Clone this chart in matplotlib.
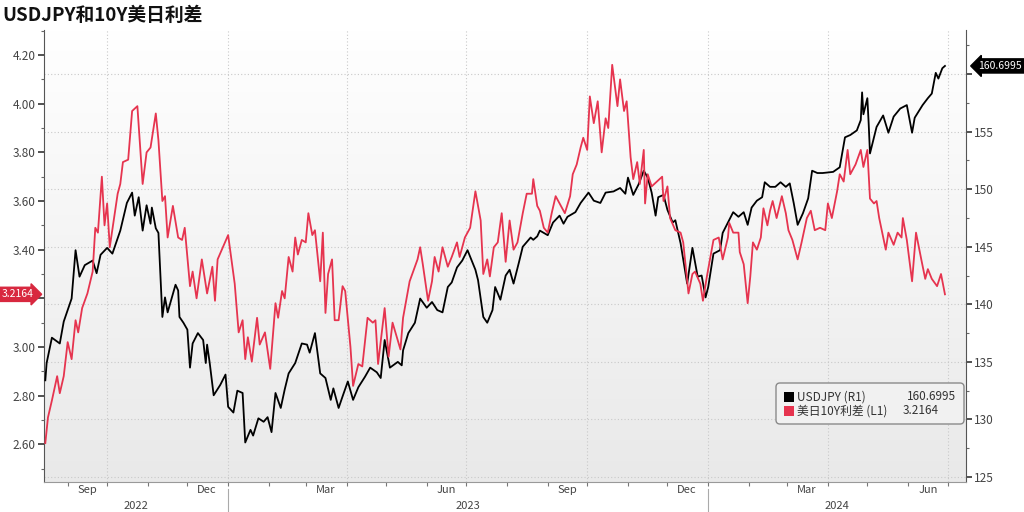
import matplotlib
matplotlib.use("Agg")
import matplotlib.pyplot as plt
import matplotlib.dates as mdates
import matplotlib.transforms as mtrans
from matplotlib.patches import FancyBboxPatch, Rectangle
from matplotlib.colors import LinearSegmentedColormap
from matplotlib.ticker import FixedLocator, MultipleLocator
import numpy as np
import pandas as pd

plt.rcParams['font.family'] = ['Noto Sans CJK SC', 'DejaVu Sans']

title = "USDJPY和10Y美日利差"
jpy_name = "USDJPY (R1)"
spread_name = "美日10Y利差 (L1)"
jpy_last = 160.6995
spread_last = 3.2164

# USDJPY (right axis)
jpy_dates = [
    "2022-08-15", "2022-08-16", "2022-08-20", "2022-08-26", "2022-08-29", "2022-09-04", "2022-09-07",
    "2022-09-10", "2022-09-14", "2022-09-20", "2022-09-23", "2022-09-26", "2022-10-01", "2022-10-05",
    "2022-10-11", "2022-10-16", "2022-10-20", "2022-10-22", "2022-10-25", "2022-10-28", "2022-10-31",
    "2022-11-03", "2022-11-04", "2022-11-07", "2022-11-09", "2022-11-12", "2022-11-14", "2022-11-16",
    "2022-11-22", "2022-11-24", "2022-11-25", "2022-11-28", "2022-12-01", "2022-12-03", "2022-12-05",
    "2022-12-09", "2022-12-13", "2022-12-15", "2022-12-16", "2022-12-18", "2022-12-21", "2022-12-26",
    "2022-12-30", "2023-01-01", "2023-01-05", "2023-01-08", "2023-01-12", "2023-01-14", "2023-01-18",
    "2023-01-20", "2023-01-24", "2023-01-28", "2023-01-31", "2023-02-03", "2023-02-06", "2023-02-10",
    "2023-02-13", "2023-02-16", "2023-02-21", "2023-02-26", "2023-03-02", "2023-03-04", "2023-03-08",
    "2023-03-12", "2023-03-16", "2023-03-20", "2023-03-22", "2023-03-26", "2023-03-29", "2023-04-02",
    "2023-04-06", "2023-04-10", "2023-04-15", "2023-04-19", "2023-04-24", "2023-04-27", "2023-04-30",
    "2023-05-04", "2023-05-10", "2023-05-13", "2023-05-14", "2023-05-18", "2023-05-23", "2023-05-27",
    "2023-06-01", "2023-06-05", "2023-06-09", "2023-06-13", "2023-06-17", "2023-06-20", "2023-06-24",
    "2023-06-28", "2023-07-02", "2023-07-08", "2023-07-10", "2023-07-14", "2023-07-17", "2023-07-21",
    "2023-07-23", "2023-07-27", "2023-07-31", "2023-08-03", "2023-08-06", "2023-08-10", "2023-08-13",
    "2023-08-19", "2023-08-21", "2023-08-24", "2023-08-26", "2023-09-01", "2023-09-05", "2023-09-10",
    "2023-09-13", "2023-09-16", "2023-09-22", "2023-09-26", "2023-10-02", "2023-10-06", "2023-10-11",
    "2023-10-15", "2023-10-21", "2023-10-26", "2023-10-30", "2023-11-01", "2023-11-05", "2023-11-09",
    "2023-11-13", "2023-11-16", "2023-11-19", "2023-11-22", "2023-11-24", "2023-11-28", "2023-12-01",
    "2023-12-05", "2023-12-07", "2023-12-11", "2023-12-16", "2023-12-20", "2023-12-24", "2023-12-27",
    "2023-12-30", "2024-01-01", "2024-01-05", "2024-01-10", "2024-01-12", "2024-01-16", "2024-01-20",
    "2024-01-24", "2024-01-28", "2024-01-31", "2024-02-03", "2024-02-07", "2024-02-11", "2024-02-13",
    "2024-02-17", "2024-02-21", "2024-02-25", "2024-02-29", "2024-03-03", "2024-03-06", "2024-03-09",
    "2024-03-13", "2024-03-17", "2024-03-20", "2024-03-24", "2024-03-28", "2024-04-05", "2024-04-10",
    "2024-04-14", "2024-04-18", "2024-04-23", "2024-04-26", "2024-04-27", "2024-04-28", "2024-05-01",
    "2024-05-02", "2024-05-03", "2024-05-08", "2024-05-13", "2024-05-17", "2024-05-21", "2024-05-26",
    "2024-05-31", "2024-06-04", "2024-06-06", "2024-06-12", "2024-06-16", "2024-06-19", "2024-06-22",
    "2024-06-24", "2024-06-27", "2024-06-29",
]
jpy_values = [
    133.4, 134.9, 137.1, 136.6, 138.5, 140.5, 144.7,
    142.4, 143.4, 143.8, 142.7, 144.3, 144.9, 144.4,
    146.4, 148.8, 149.7, 147.7, 149.3, 146.4, 148.6,
    147.0, 148.4, 146.6, 146.2, 138.9, 140.6, 139.3,
    141.7, 141.2, 138.9, 138.4, 137.8, 134.5, 136.6,
    137.5, 136.9, 134.9, 136.5, 134.9, 132.1, 133.0,
    133.9, 131.1, 130.6, 132.5, 132.3, 128.0, 129.1,
    128.6, 130.1, 129.8, 130.2, 128.9, 132.3, 131.0,
    132.6, 134.0, 134.9, 136.6, 136.5, 135.8, 137.5,
    134.0, 133.6, 131.7, 132.7, 131.0, 132.0, 133.3,
    131.7, 132.8, 133.7, 134.5, 134.1, 133.6, 136.9,
    134.5, 135.0, 134.7, 136.0, 137.5, 138.4, 140.5,
    139.7, 140.2, 139.5, 139.3, 141.5, 141.9, 143.2,
    143.8, 144.7, 143.0, 142.1, 138.9, 138.4, 139.5,
    141.5, 140.4, 142.5, 143.0, 141.8, 143.6, 145.0,
    145.8, 145.6, 145.9, 146.4, 146.0, 147.1, 147.7,
    147.0, 147.6, 148.0, 148.8, 149.7, 149.0, 148.8,
    149.7, 149.8, 150.1, 149.6, 151.0, 149.5, 150.4,
    151.6, 151.0, 149.7, 147.7, 149.3, 149.5, 148.2,
    147.1, 147.3, 145.3, 141.8, 144.9, 142.4, 142.5,
    140.6, 141.5, 144.4, 144.7, 146.2, 147.1, 148.0,
    147.6, 148.0, 146.9, 148.4, 149.0, 149.3, 150.6,
    150.2, 150.2, 150.6, 150.2, 150.5, 148.8, 146.9,
    147.9, 149.2, 151.6, 151.4, 151.4, 151.5, 151.9,
    154.5, 154.7, 155.1, 156.0, 158.4, 156.5, 157.9,
    155.7, 153.1, 155.4, 156.4, 154.9, 156.3, 157.0,
    157.3, 154.9, 156.2, 157.3, 157.9, 158.3, 160.1,
    159.6, 160.5, 160.6995,
]

# US-Japan 10Y yield spread (left axis)
spread_dates = [
    "2022-08-15", "2022-08-17", "2022-08-20", "2022-08-24", "2022-08-26", "2022-08-29", "2022-09-01",
    "2022-09-04", "2022-09-07", "2022-09-09", "2022-09-12", "2022-09-16", "2022-09-20", "2022-09-22",
    "2022-09-24", "2022-09-27", "2022-09-29", "2022-10-01", "2022-10-03", "2022-10-09", "2022-10-11",
    "2022-10-13", "2022-10-17", "2022-10-20", "2022-10-24", "2022-10-28", "2022-10-31", "2022-11-03",
    "2022-11-07", "2022-11-09", "2022-11-12", "2022-11-14", "2022-11-16", "2022-11-20", "2022-11-24",
    "2022-11-27", "2022-11-29", "2022-12-03", "2022-12-05", "2022-12-08", "2022-12-12", "2022-12-16",
    "2022-12-20", "2022-12-22", "2022-12-24", "2022-12-28", "2023-01-01", "2023-01-04", "2023-01-06",
    "2023-01-09", "2023-01-12", "2023-01-14", "2023-01-16", "2023-01-19", "2023-01-23", "2023-01-25",
    "2023-01-29", "2023-02-02", "2023-02-06", "2023-02-08", "2023-02-11", "2023-02-13", "2023-02-16",
    "2023-02-19", "2023-02-21", "2023-02-23", "2023-02-26", "2023-03-01", "2023-03-03", "2023-03-06",
    "2023-03-08", "2023-03-12", "2023-03-14", "2023-03-16", "2023-03-18", "2023-03-21", "2023-03-23",
    "2023-03-26", "2023-03-29", "2023-03-31", "2023-04-04", "2023-04-06", "2023-04-10", "2023-04-13",
    "2023-04-17", "2023-04-21", "2023-04-23", "2023-04-25", "2023-04-28", "2023-04-30", "2023-05-03",
    "2023-05-06", "2023-05-12", "2023-05-14", "2023-05-19", "2023-05-25", "2023-05-27", "2023-05-29",
    "2023-06-02", "2023-06-05", "2023-06-07", "2023-06-10", "2023-06-13", "2023-06-17", "2023-06-20",
    "2023-06-24", "2023-06-26", "2023-06-30", "2023-07-04", "2023-07-08", "2023-07-12", "2023-07-14",
    "2023-07-17", "2023-07-19", "2023-07-22", "2023-07-25", "2023-07-28", "2023-07-31", "2023-08-03",
    "2023-08-06", "2023-08-09", "2023-08-13", "2023-08-16", "2023-08-20", "2023-08-21", "2023-08-24",
    "2023-08-26", "2023-08-29", "2023-09-01", "2023-09-04", "2023-09-07", "2023-09-10", "2023-09-14",
    "2023-09-18", "2023-09-20", "2023-09-23", "2023-09-26", "2023-09-28", "2023-10-01", "2023-10-03",
    "2023-10-06", "2023-10-09", "2023-10-12", "2023-10-15", "2023-10-17", "2023-10-20", "2023-10-24",
    "2023-10-26", "2023-10-29", "2023-10-31", "2023-11-03", "2023-11-05", "2023-11-08", "2023-11-10",
    "2023-11-13", "2023-11-14", "2023-11-16", "2023-11-19", "2023-11-23", "2023-11-27", "2023-11-28",
    "2023-12-01", "2023-12-03", "2023-12-07", "2023-12-11", "2023-12-13", "2023-12-17", "2023-12-20",
    "2023-12-22", "2023-12-26", "2023-12-28", "2023-12-31", "2024-01-05", "2024-01-09", "2024-01-12",
    "2024-01-16", "2024-01-17", "2024-01-20", "2024-01-24", "2024-01-25", "2024-01-28", "2024-01-31",
    "2024-02-02", "2024-02-04", "2024-02-07", "2024-02-10", "2024-02-12", "2024-02-15", "2024-02-17",
    "2024-02-19", "2024-02-22", "2024-02-26", "2024-02-29", "2024-03-02", "2024-03-05", "2024-03-09",
    "2024-03-12", "2024-03-16", "2024-03-19", "2024-03-22", "2024-03-26", "2024-03-30", "2024-04-01",
    "2024-04-04", "2024-04-08", "2024-04-10", "2024-04-13", "2024-04-16", "2024-04-18", "2024-04-22",
    "2024-04-26", "2024-04-28", "2024-05-01", "2024-05-03", "2024-05-06", "2024-05-08", "2024-05-10",
    "2024-05-15", "2024-05-17", "2024-05-21", "2024-05-24", "2024-05-27", "2024-05-28", "2024-05-31",
    "2024-06-04", "2024-06-07", "2024-06-11", "2024-06-14", "2024-06-16", "2024-06-19", "2024-06-23",
    "2024-06-26", "2024-06-29",
]
spread_values = [
    2.605, 2.71, 2.78, 2.88, 2.81, 2.88, 3.02,
    2.95, 3.11, 3.06, 3.16, 3.22, 3.31, 3.49,
    3.47, 3.70, 3.50, 3.59, 3.41, 3.63, 3.67,
    3.76, 3.77, 3.97, 3.99, 3.67, 3.80, 3.82,
    3.96, 3.85, 3.60, 3.62, 3.45, 3.58, 3.45,
    3.44, 3.49, 3.25, 3.31, 3.20, 3.36, 3.22,
    3.33, 3.19, 3.36, 3.41, 3.46, 3.34, 3.26,
    3.06, 3.11, 2.95, 3.04, 2.94, 3.12, 3.01,
    3.06, 2.91, 3.18, 3.12, 3.23, 3.20, 3.37,
    3.31, 3.45, 3.38, 3.44, 3.43, 3.55, 3.46,
    3.48, 3.27, 3.47, 3.14, 3.30, 3.36, 3.11,
    3.11, 3.25, 3.23, 3.00, 2.84, 2.93, 2.92,
    3.12, 3.10, 3.11, 2.93, 3.07, 3.16, 2.96,
    3.10, 2.99, 3.12, 3.27, 3.36, 3.41, 3.34,
    3.19, 3.27, 3.37, 3.31, 3.41, 3.33, 3.37,
    3.43, 3.37, 3.45, 3.49, 3.64, 3.52, 3.30,
    3.36, 3.29, 3.41, 3.43, 3.55, 3.35, 3.52,
    3.40, 3.43, 3.55, 3.63, 3.63, 3.69, 3.58,
    3.56, 3.49, 3.47, 3.55, 3.62, 3.59, 3.55,
    3.62, 3.71, 3.75, 3.82, 3.86, 3.81, 4.03,
    3.92, 4.01, 3.80, 3.94, 3.90, 4.16, 3.99,
    4.10, 3.97, 4.01, 3.78, 3.69, 3.76, 3.67,
    3.81, 3.59, 3.71, 3.66, 3.68, 3.70, 3.60,
    3.66, 3.53, 3.48, 3.47, 3.43, 3.22, 3.30,
    3.31, 3.26, 3.19, 3.29, 3.44, 3.45, 3.36,
    3.45, 3.51, 3.47, 3.47, 3.39, 3.34, 3.18,
    3.29, 3.43, 3.40, 3.45, 3.57, 3.50, 3.56,
    3.60, 3.53, 3.62, 3.55, 3.48, 3.44, 3.36,
    3.43, 3.53, 3.56, 3.48, 3.49, 3.48, 3.59,
    3.53, 3.64, 3.71, 3.68, 3.81, 3.71, 3.75,
    3.81, 3.74, 3.81, 3.61, 3.59, 3.60, 3.53,
    3.40, 3.47, 3.42, 3.47, 3.45, 3.53, 3.44,
    3.27, 3.47, 3.36, 3.28, 3.32, 3.28, 3.25,
    3.30, 3.2164,
]

left_ticks = [2.60, 2.80, 3.00, 3.20, 3.40, 3.60, 3.80, 4.00, 4.20]
right_ticks = [125, 130, 135, 140, 145, 150, 155, 160]
years = [2022, 2023, 2024]

red = "#e6344f"
W, H = 1024, 512

jd = pd.to_datetime(jpy_dates)
sd = pd.to_datetime(spread_dates)
x0, x1 = pd.Timestamp("2022-08-14"), pd.Timestamp("2024-07-15")

fig = plt.figure(figsize=(W / 100, H / 100), dpi=100)
rect = [44 / W, 30 / H, 922 / W, 452 / H]

# gradient background of plot area
bg = fig.add_axes(rect, zorder=-1)
grad = np.linspace(0, 1, 256).reshape(-1, 1)
cmap = LinearSegmentedColormap.from_list("bg", ["#ffffff", "#e9e9e9"])
bg.imshow(grad, cmap=cmap, aspect="auto", extent=[0, 1, 0, 1])
bg.axis("off")

ax = fig.add_axes(rect)  # USDJPY, right scale
ax.set_facecolor("none")
ax2 = ax.twinx()         # spread, left scale

ax.plot(jd, jpy_values, color="black", lw=1.3, zorder=3)
ax2.plot(sd, spread_values, color=red, lw=1.3, zorder=3)

ax.set_xlim(x0, x1)
ax.set_ylim(124.57, 163.82)
ax2.set_ylim(2.445, 4.303)

# right axis (USDJPY); the tick under the last-value tag gets no label
ax.yaxis.tick_right()
ax.yaxis.set_major_locator(FixedLocator(right_ticks))
ax.yaxis.set_minor_locator(MultipleLocator(2.5))
ax.yaxis.set_major_formatter(plt.FuncFormatter(
    lambda v, p: "" if abs(v - jpy_last) < 2 else f"{v:.0f}"))
ax.tick_params(axis="y", which="major", length=4, width=1.2, color="#333333",
               labelsize=8.5, labelcolor="#444444", pad=2)
ax.tick_params(axis="y", which="minor", length=2, width=0.8, color="#666666")
ax.grid(axis="y", which="major", color="#c9c9c9", lw=0.8, ls=(0, (1, 2)))

# left axis (spread)
ax2.yaxis.tick_left()
ax2.yaxis.set_major_locator(FixedLocator(left_ticks))
ax2.yaxis.set_minor_locator(MultipleLocator(0.1))
ax2.yaxis.set_major_formatter(plt.FuncFormatter(
    lambda v, p: "" if abs(v - spread_last) < 0.05 else f"{v:.2f}"))
ax2.tick_params(axis="y", which="major", length=4, width=1.2, color="#333333",
                labelsize=8.5, labelcolor="#444444", pad=2)
ax2.tick_params(axis="y", which="minor", length=2, width=0.8, color="#666666")
for s in ax2.spines.values():
    s.set_visible(False)

# x axis: month ticks, quarter-month labels in the middle of the month
ax.xaxis.set_major_locator(mdates.MonthLocator())
ax.xaxis.set_major_formatter(plt.NullFormatter())
ax.xaxis.set_minor_locator(mdates.MonthLocator(bymonth=[3, 6, 9, 12], bymonthday=16))
ax.xaxis.set_minor_formatter(mdates.DateFormatter("%b"))
ax.tick_params(axis="x", which="major", length=3, width=0.8, color="#777777")
ax.tick_params(axis="x", which="minor", length=0, labelsize=8, labelcolor="#444444", pad=2)

for q in pd.date_range("2022-10-01", "2024-07-01", freq="QS"):
    ax.axvline(q, color="#c9c9c9", lw=0.8, ls=(0, (1, 2)), zorder=1)

ax.spines["top"].set_visible(False)
ax.spines["left"].set_color("#555555")
ax.spines["right"].set_color("#555555")
ax.spines["bottom"].set_color("#999999")

# year row
blend = mtrans.blended_transform_factory(ax.transData, ax.transAxes)
for y in years:
    a = max(pd.Timestamp(f"{y}-01-01"), x0)
    b = min(pd.Timestamp(f"{y + 1}-01-01"), x1)
    mid = a + (b - a) / 2
    ax.text(mid, -0.052, str(y), transform=blend, ha="center", va="center",
            fontsize=8, color="#444444")
    if pd.Timestamp(f"{y}-01-01") > x0:
        ax.plot([pd.Timestamp(f"{y}-01-01")] * 2, [-0.016, -0.068], transform=blend,
                color="#aaaaaa", lw=0.8, clip_on=False)

# last value tags
lt = mtrans.blended_transform_factory(fig.transFigure, ax2.transData)
ax2.text(2 / W, spread_last, f"{spread_last:.4f}", transform=lt, ha="left", va="center",
         fontsize=7.5, color="white", zorder=10,
         bbox=dict(boxstyle="rarrow,pad=0.2", fc="#d8283f", ec="#d8283f"))
rt = mtrans.blended_transform_factory(fig.transFigure, ax.transData)
ax.text(1 - 2 / W, jpy_last, f"{jpy_last:.4f}", transform=rt, ha="right", va="center",
        fontsize=7.5, color="white", zorder=10,
        bbox=dict(boxstyle="larrow,pad=0.2", fc="black", ec="black"))

# title
fig.text(2 / W, 1 - 15 / H, title, fontsize=13.5, fontweight="bold", va="center", ha="left",
         color="#111111")

# legend box (pixel coords)
ident = mtrans.IdentityTransform()
fig.patches.append(FancyBboxPatch((776, H - 424), 188, 41, boxstyle="round,pad=0,rounding_size=4",
                                  transform=ident, fc="#f1f1f1", ec="#8a8a8a", lw=1.0))
rows = [(397, "black", jpy_name, f"{jpy_last:.4f}", "right", 956),
        (411, red, spread_name, f"{spread_last:.4f}", "left", 903)]
for yy, col, name, val, ha, vx in rows:
    fig.patches.append(Rectangle((784, H - yy - 5), 10, 10, transform=ident, fc=col, ec="none"))
    fig.text(797, H - yy, name, transform=ident, fontsize=8.5, color="#333333",
             va="center", ha="left")
    fig.text(vx, H - yy, val, transform=ident, fontsize=8.5, color="#333333",
             va="center", ha=ha)

fig.savefig("out.png", dpi=100)
